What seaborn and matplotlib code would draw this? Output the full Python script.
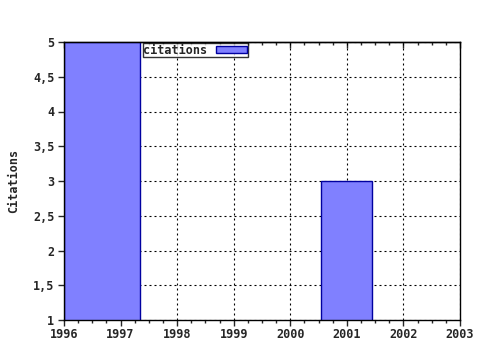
import matplotlib
matplotlib.use("Agg")
import matplotlib.pyplot as plt
import seaborn as sns
import pandas as pd
from matplotlib.ticker import FuncFormatter, MultipleLocator

# bar spans (years)
bar_left = [1996.0, 2000.55]
bar_right = [1997.34, 2001.45]
citations = [5, 3]
x_ticks = [1996, 1997, 1998, 1999, 2000, 2001, 2002, 2003]
y_ticks = [1, 1.5, 2, 2.5, 3, 3.5, 4, 4.5, 5]

sns.set_style("white")
plt.rcParams['font.family'] = ['DejaVu Sans Mono']
plt.rcParams['font.weight'] = 'bold'
FS = 8.5

centers = [(l + r) / 2 for l, r in zip(bar_left, bar_right)]
df = pd.DataFrame({"year": centers, "citations": citations})
bins = [bar_left[0], bar_right[0], bar_left[1], bar_right[1]]

fig = plt.figure(figsize=(4.8, 3.5), dpi=100)
ax = fig.add_axes([64/480, 1-320/350, 396/480, 278/350])

sns.histplot(data=df, x="year", weights="citations", bins=bins, stat="count",
             color="#8080ff", alpha=1, edgecolor="#0000a0", linewidth=1,
             ax=ax, zorder=3, label="citations")

ax.set_xlim(1996, 2003)
ax.set_ylim(1, 5)
ax.set_xticks(x_ticks)
ax.set_yticks(y_ticks)
ax.xaxis.set_minor_locator(MultipleLocator(0.25))
ax.yaxis.set_major_formatter(FuncFormatter(lambda v, p: (f"{v:g}").replace(".", ",")))
ax.xaxis.set_major_formatter(FuncFormatter(lambda v, p: f"{int(round(v))}"))
ax.grid(True, which="major", color="black", linestyle=(0, (1.8, 2.7)), linewidth=0.8, zorder=1)
ax.set_axisbelow(True)
for s in ax.spines.values():
    s.set_visible(True)
    s.set_color("black")
    s.set_linewidth(1)
    s.set_zorder(5)

ax.tick_params(axis="x", which="major", direction="out", length=4, bottom=True, top=False,
               labelsize=FS, pad=2, width=1)
ax.tick_params(axis="x", which="minor", direction="out", length=2, bottom=True, top=False, width=1)
ax.tick_params(axis="y", which="major", direction="out", length=4, left=True, right=False,
               labelsize=FS, pad=3, width=1)
# top axis ticks pointing inward
top = ax.secondary_xaxis("top")
top.set_xticks(x_ticks)
top.xaxis.set_minor_locator(MultipleLocator(0.25))
top.tick_params(which="major", direction="in", length=4, width=1, labeltop=False)
top.tick_params(which="minor", direction="in", length=2, width=1)
top.spines["top"].set_linewidth(1)

for lbl in ax.get_xticklabels() + ax.get_yticklabels():
    lbl.set_fontweight("bold")

ax.set_xlabel("")
ax.set_ylabel("Citations", fontsize=FS, fontweight="bold", labelpad=9)

leg = ax.legend(loc="upper right", bbox_to_anchor=(184/396, 1-1/278), markerfirst=False,
                fontsize=FS, frameon=True, fancybox=False, edgecolor="black",
                handlelength=2.7, handleheight=0.5, borderpad=0.05, handletextpad=0.7,
                borderaxespad=0)
leg.get_frame().set_linewidth(1)
leg.set_zorder(2)
for t in leg.get_texts():
    t.set_fontweight("bold")

fig.savefig("out.png", dpi=100)
